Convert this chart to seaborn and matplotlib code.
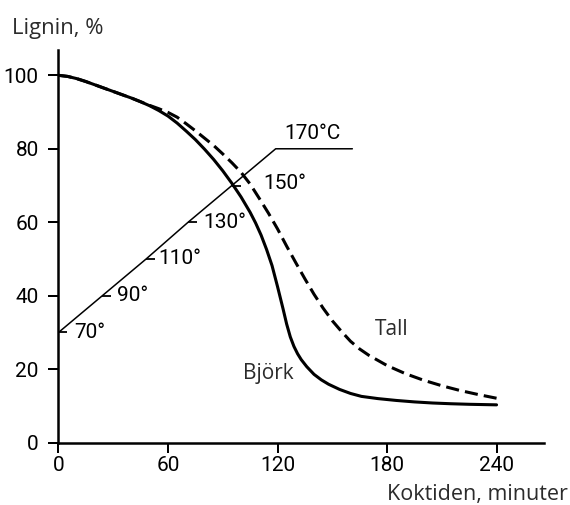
import matplotlib
matplotlib.use("Agg")
import matplotlib.pyplot as plt
import pandas as pd
import seaborn as sns

# Cooking time (minutes) and residual lignin (%) for birch
bjork_time = [0, 5, 10, 15, 20, 25, 30, 35, 40, 45, 50, 55, 60, 65, 70, 75, 80,
              85, 90, 95, 100, 105, 108, 111, 114, 117, 120, 123, 125, 127, 129,
              131, 133, 136, 140, 144, 148, 154, 160, 166, 175, 185, 195, 205,
              215, 225, 240]
bjork_lignin = [100, 99.7, 99.1, 98.3, 97.4, 96.5, 95.6, 94.7, 93.8, 92.8, 91.7,
                90.4, 88.9, 87.0, 84.8, 82.5, 79.9, 77.1, 74.0, 70.6, 66.9, 62.7,
                59.8, 56.5, 52.6, 48.2, 42.5, 36.5, 32.3, 28.8, 26.2, 24.2, 22.6,
                20.7, 18.6, 17.1, 15.9, 14.5, 13.4, 12.6, 12.0, 11.5, 11.1, 10.8,
                10.6, 10.45, 10.3]

# Cooking time (minutes) and residual lignin (%) for pine
tall_time = [0, 5, 10, 15, 20, 25, 30, 35, 40, 45, 50, 55, 60, 65, 70, 75, 80,
             85, 90, 95, 100, 105, 110, 115, 120, 125, 130, 135, 140, 145, 150,
             155, 160, 165, 170, 180, 190, 200, 210, 220, 230, 240]
tall_lignin = [100, 99.7, 99.1, 98.3, 97.4, 96.5, 95.6, 94.7, 93.8, 92.8, 91.8,
               90.9, 89.9, 88.6, 86.8, 84.9, 82.9, 80.9, 78.6, 76.2, 73.6, 70.4,
               66.5, 62.5, 58.2, 53.5, 49.0, 44.6, 40.4, 36.6, 33.2, 30.3, 27.6,
               25.5, 23.8, 21.0, 18.8, 17.0, 15.5, 14.2, 13.1, 12.1]

# Temperature programme drawn on the lignin scale
temp_time = [0, 24, 48, 71, 95, 119, 161]
temp_level = [30, 40, 50, 60, 70, 80, 80]
temp_labels = ["70°", "90°", "110°", "130°", "150°", "170°C"]

x_ticks = [0, 60, 120, 180, 240]
y_ticks = [0, 20, 40, 60, 80, 100]

# Label offsets (pixels) for the temperature steps
temp_label_offsets = [(16, 0), (15, 0), (12, 0), (15, 0), (31, 2), (9, 15)]

df = pd.concat([
    pd.DataFrame({"tid": bjork_time, "lignin": bjork_lignin, "slag": "Björk"}),
    pd.DataFrame({"tid": tall_time, "lignin": tall_lignin, "slag": "Tall"}),
])

sns.set_style("ticks")
plt.rcParams["font.family"] = ["DejaVu Sans"]

num_font = dict(family=["Roboto", "DejaVu Sans"], size=15)
text_family = ["Open Sans", "DejaVu Sans"]
text_color = "#2b2b2b"

fig = plt.figure(figsize=(5.7, 5.05), dpi=100)
ax = fig.add_axes([0.1026, 0.1234, 0.8518, 0.7784])

sns.lineplot(data=df, x="tid", y="lignin", style="slag",
             dashes={"Björk": "", "Tall": (4.3, 2.0)},
             color="black", linewidth=2.2, legend=False, ax=ax,
             estimator=None, sort=False)
for line in ax.get_lines():
    line.set_solid_joinstyle("round")
    line.set_dash_capstyle("butt")

# Temperature ramp with short step marks
ax.plot(temp_time, temp_level, color="black", linewidth=1.1, zorder=1)
ax.plot(temp_time[:5], temp_level[:5], linestyle="none",
        marker=[(0, 0), (1, 0)], markersize=13, markeredgewidth=1.3,
        markeredgecolor="black", zorder=1)
for t, lv, lab, off in zip(temp_time, temp_level, temp_labels, temp_label_offsets):
    ax.annotate(lab, (t, lv), xytext=off, textcoords="offset pixels",
                ha="left", va="center", color="black",
                family=num_font["family"], fontsize=num_font["size"])

ax.text(101.3, 18.9, "Björk", ha="left", va="center",
        family=text_family, fontsize=15, color=text_color)
ax.text(173.4, 30.9, "Tall", ha="left", va="center",
        family=text_family, fontsize=15, color=text_color)

ax.set_xlim(0, 266)
ax.set_ylim(0, 107)
ax.set_xticks(x_ticks)
ax.set_yticks(y_ticks)
ax.tick_params(axis="both", direction="out", length=7.2, width=1.44,
               colors="black")
ax.tick_params(axis="x", pad=2.5)
ax.tick_params(axis="y", pad=7)
for lab in ax.get_xticklabels() + ax.get_yticklabels():
    lab.set_family(num_font["family"])
    lab.set_fontsize(num_font["size"])

sns.despine(ax=ax)
for side in ("left", "bottom"):
    ax.spines[side].set_linewidth(1.8)
    ax.spines[side].set_color("black")

ax.set_ylabel("Lignin, %", rotation=0, ha="left", va="baseline",
              family=text_family, fontsize=15.8, color=text_color)
ax.yaxis.set_label_coords(-0.0958, 1.0397)
ax.set_xlabel("Koktiden, minuter", ha="right", va="baseline",
              family=text_family, fontsize=15.5, color=text_color)
ax.xaxis.set_label_coords(1.0494, -0.1458)

fig.savefig("out.png", dpi=100)
